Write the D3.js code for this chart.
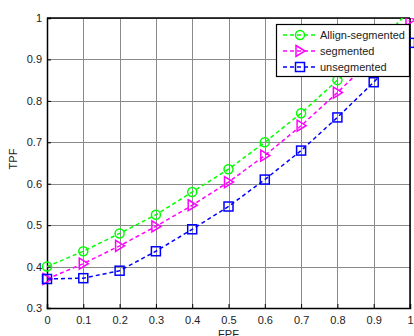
<!DOCTYPE html>
<html>
<head>
<meta charset="utf-8">
<script src="https://cdn.jsdelivr.net/npm/d3@7"></script>
<style>
  body { margin: 0; background: #fff; }
  text { font-family: "Liberation Sans", Arial, sans-serif; }
</style>
</head>
<body>
<div id="chart"></div>
<script>
"use strict";

const width = 414;
const height = 336;
const margin = { top: 18, right: 4, bottom: 28, left: 47 };

const fpf = [0, 0.1, 0.2, 0.3, 0.4, 0.5, 0.6, 0.7, 0.8, 0.9, 1];
const allignSegmented = [0.40, 0.437, 0.48, 0.525, 0.58, 0.635, 0.70, 0.77, 0.85, 0.925, 1.02];
const segmented = [0.37, 0.407, 0.45, 0.497, 0.548, 0.604, 0.668, 0.74, 0.82, 0.905, 0.995];
const unsegmented = [0.37, 0.372, 0.39, 0.437, 0.49, 0.545, 0.61, 0.68, 0.76, 0.845, 0.94];

const xTicks = [0, 0.1, 0.2, 0.3, 0.4, 0.5, 0.6, 0.7, 0.8, 0.9, 1];
const yTicks = [0.3, 0.4, 0.5, 0.6, 0.7, 0.8, 0.9, 1];

const series = [
  { name: "Allign-segmented", values: allignSegmented, color: "#00ff00", marker: "circle" },
  { name: "segmented", values: segmented, color: "#ff00ff", marker: "triangle" },
  { name: "unsegmented", values: unsegmented, color: "#0000ff", marker: "square" }
];

const x = d3.scaleLinear().domain([0, 1]).range([margin.left, width - margin.right]);
const y = d3.scaleLinear().domain([0.3, 1]).range([height - margin.bottom, margin.top]);

const svg = d3.select("#chart").append("svg")
  .attr("width", width)
  .attr("height", height);

svg.append("defs").append("clipPath")
  .attr("id", "plot-clip")
  .append("rect")
  .attr("x", margin.left - 6)
  .attr("y", margin.top)
  .attr("width", width - margin.left - margin.right + 12)
  .attr("height", height - margin.top - margin.bottom + 6);

// grid
const grid = svg.append("g").attr("stroke", "#8a8a8a").attr("stroke-width", 1);
grid.selectAll(".vgrid")
  .data(xTicks)
  .join("line")
  .attr("x1", d => Math.round(x(d)) + 0.5)
  .attr("x2", d => Math.round(x(d)) + 0.5)
  .attr("y1", y(0.3))
  .attr("y2", y(1));
grid.selectAll(".hgrid")
  .data(yTicks)
  .join("line")
  .attr("y1", d => Math.round(y(d)) + 0.5)
  .attr("y2", d => Math.round(y(d)) + 0.5)
  .attr("x1", x(0))
  .attr("x2", x(1));

// axes
const xAxis = svg.append("g")
  .attr("transform", "translate(0," + y(0.3) + ")")
  .call(d3.axisBottom(x).tickValues(xTicks).tickSize(-4).tickPadding(8)
    .tickFormat(d => d3.format("~g")(d)));
const yAxis = svg.append("g")
  .attr("transform", "translate(" + x(0) + ",0)")
  .call(d3.axisLeft(y).tickValues(yTicks).tickSize(-4).tickPadding(5)
    .tickFormat(d => d3.format("~g")(d)));

[xAxis, yAxis].forEach(function(a) {
  a.select(".domain").attr("stroke", "#000").attr("stroke-width", 1.5);
  a.selectAll(".tick line").attr("stroke", "#000");
  a.selectAll(".tick text")
    .attr("fill", "#222")
    .style("font-size", "11px")
    .style("font-family", "\"Liberation Sans\", Arial, sans-serif");
});

// top and right box lines
svg.append("line")
  .attr("x1", x(0)).attr("x2", x(1))
  .attr("y1", y(1)).attr("y2", y(1))
  .attr("stroke", "#000").attr("stroke-width", 1.5);
svg.append("line")
  .attr("x1", x(1)).attr("x2", x(1))
  .attr("y1", y(1)).attr("y2", y(0.3))
  .attr("stroke", "#000").attr("stroke-width", 1.5);

// axis labels
svg.append("text")
  .attr("x", (x(0) + x(1)) / 2)
  .attr("y", 338)
  .attr("text-anchor", "middle")
  .attr("fill", "#222")
  .style("font-size", "11px")
  .text("FPF");

svg.append("text")
  .attr("transform", "translate(17," + 159 + ") rotate(-90)")
  .attr("text-anchor", "middle")
  .attr("fill", "#222")
  .style("font-size", "11px")
  .text("TPF");

function drawMarker(g, type, color) {
  if (type === "circle") {
    g.append("circle").attr("r", 4.5)
      .attr("fill", "none").attr("stroke", color).attr("stroke-width", 1.5);
  } else if (type === "triangle") {
    g.append("path").attr("d", "M-4,-5.5 L5,0 L-4,5.5 Z")
      .attr("fill", "none").attr("stroke", color).attr("stroke-width", 1.5);
  } else {
    g.append("rect").attr("x", -4.5).attr("y", -4.5).attr("width", 9).attr("height", 9)
      .attr("fill", "none").attr("stroke", color).attr("stroke-width", 1.5);
  }
}

const plot = svg.append("g").attr("clip-path", "url(#plot-clip)");

const line = d3.line()
  .x((d, i) => x(fpf[i]))
  .y(d => y(d));

series.forEach(function(s) {
  plot.append("path")
    .datum(s.values)
    .attr("d", line)
    .attr("fill", "none")
    .attr("stroke", s.color)
    .attr("stroke-width", 1.5)
    .attr("stroke-dasharray", "4,3");

  plot.selectAll(".m-" + s.marker)
    .data(s.values)
    .join("g")
    .attr("class", "m-" + s.marker)
    .attr("transform", (d, i) => "translate(" + x(fpf[i]) + "," + y(d) + ")")
    .each(function() { drawMarker(d3.select(this), s.marker, s.color); });
});

// legend
const legend = svg.append("g").attr("transform", "translate(276,24)");
legend.append("rect")
  .attr("x", 0.5).attr("y", 0.5)
  .attr("width", 133).attr("height", 52)
  .attr("fill", "#fff")
  .attr("stroke", "#000")
  .attr("stroke-width", 1.2);

series.forEach(function(s, i) {
  const row = legend.append("g").attr("transform", "translate(0," + (11 + i * 16) + ")");
  row.append("line")
    .attr("x1", 7).attr("x2", 41)
    .attr("stroke", s.color)
    .attr("stroke-width", 1.5)
    .attr("stroke-dasharray", "4,3");
  drawMarker(row.append("g").attr("transform", "translate(24,0)"), s.marker, s.color);
  row.append("text")
    .attr("x", 44)
    .attr("y", 4)
    .attr("fill", "#222")
    .style("font-size", "11px")
    .text(s.name);
});
</script>
</body>
</html>
